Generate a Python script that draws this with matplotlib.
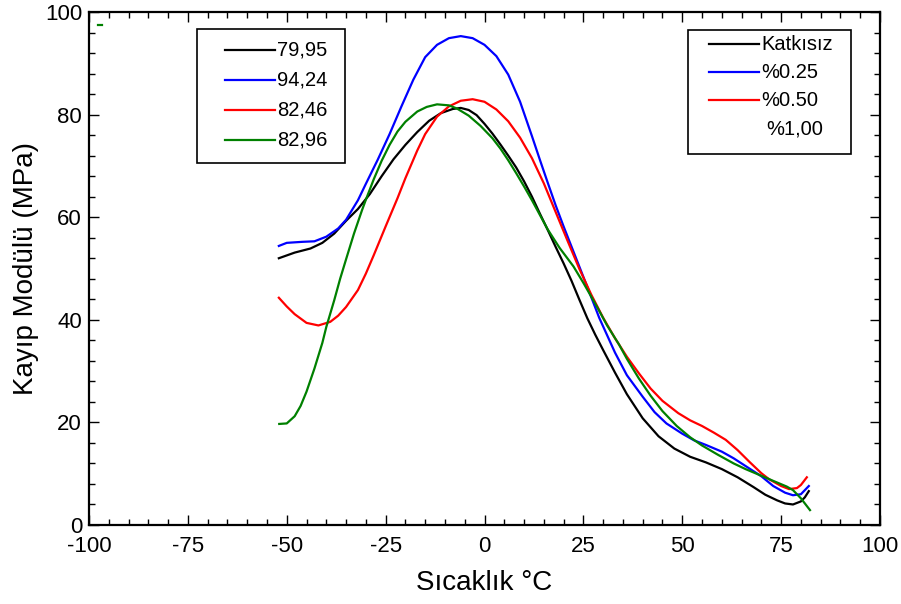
import matplotlib.pyplot as plt
from matplotlib.lines import Line2D
from matplotlib.patches import Rectangle
from matplotlib.ticker import MultipleLocator

plt.rcParams['font.family'] = ['Liberation Sans', 'DejaVu Sans']
plt.rcParams['axes.unicode_minus'] = False

# Katkisiz (black)
x_katkisiz = [-52, -48, -44, -41, -38, -35, -32, -29, -26, -23, -20, -17, -14, -11, -8, -6, -4, -2,
              0, 2, 4, 6, 8, 10, 12, 14, 16, 18, 20, 22, 24, 26, 28, 30, 33, 36, 40, 44, 48, 52,
              56, 60, 64, 68, 71, 74, 76, 78, 80, 81, 82]
y_katkisiz = [52.0, 53.1, 53.9, 55.0, 56.8, 59.3, 61.6, 64.5, 68.0, 71.3, 74.1, 76.6, 78.8, 80.3,
              81.1, 81.3, 80.9, 79.9, 78.2, 76.3, 74.2, 72.0, 69.7, 67.0, 64.0, 60.7, 57.5, 54.2,
              51.0, 47.6, 43.9, 40.3, 37.1, 34.1, 29.7, 25.5, 20.8, 17.3, 14.9, 13.3, 12.2, 10.9,
              9.3, 7.4, 5.9, 4.8, 4.2, 4.0, 4.6, 5.4, 6.6]

# %0.25 (blue)
x_025 = [-52, -50, -46, -43, -40, -37, -35, -32, -30, -27, -24, -21, -18, -15, -12, -9, -6, -3, 0,
         3, 6, 9, 12, 14, 16, 18, 20, 23, 26, 29, 33, 36, 40, 43, 46, 50, 53, 56, 60, 63, 66, 70,
         73, 76, 78, 80, 82]
y_025 = [54.4, 55.0, 55.2, 55.3, 56.2, 57.8, 59.5, 63.3, 66.5, 71.2, 76.2, 81.6, 86.8, 91.2, 93.6,
         94.9, 95.3, 94.9, 93.6, 91.4, 87.8, 82.5, 75.8, 71.2, 66.7, 62.3, 58.2, 52.3, 46.4, 40.4,
         33.6, 29.2, 25.0, 22.0, 19.8, 17.8, 16.5, 15.6, 14.3, 13.0, 11.5, 9.5, 7.6, 6.3, 5.8,
         6.0, 7.6]

# %0.50 (red)
x_050 = [-52, -50, -48, -45, -42, -39, -37, -35, -32, -30, -28, -25, -22, -20, -17, -15, -12, -9,
         -6, -3, 0, 3, 6, 9, 12, 15, 18, 21, 24, 27, 30, 33, 36, 39, 42, 45, 49, 52, 55, 58, 61,
         64, 67, 70, 72, 75, 77, 79, 80, 81.5]
y_050 = [44.3, 42.6, 41.1, 39.4, 38.9, 39.6, 40.8, 42.5, 45.8, 49.0, 52.6, 58.2, 63.7, 67.6, 73.0,
         76.2, 79.6, 81.6, 82.7, 83.0, 82.5, 81.0, 78.7, 75.5, 71.5, 66.6, 61.0, 55.4, 49.9, 44.9,
         40.4, 36.4, 32.8, 29.6, 26.6, 24.2, 21.8, 20.4, 19.3, 18.0, 16.6, 14.6, 12.3, 10.1, 8.9,
         7.6, 7.0, 7.2, 7.8, 9.3]

# %1,00 (green)
x_100 = [-51.9, -50, -48, -46.5, -45, -43, -41, -40, -38, -36.5, -35, -33, -31, -30, -28, -26, -24,
         -22, -20, -17, -14.6, -12, -9, -7, -4, -1, 2, 4, 6, 8, 10, 12, 16, 19, 22.5, 25, 28.4, 31,
         34, 36, 39, 42, 45, 48.6, 52, 55, 59, 63, 66, 70, 73, 76.4, 78, 80, 82.3]
y_100 = [19.7, 19.8, 21.2, 23.2, 26.0, 30.5, 35.5, 38.6, 43.8, 48.0, 51.8, 56.8, 61.3, 63.4, 67.4,
         71.0, 74.1, 76.7, 78.6, 80.6, 81.5, 82.0, 81.8, 81.2, 79.8, 77.8, 75.4, 73.4, 71.1, 68.6,
         66.0, 63.3, 57.6, 54.0, 50.4, 47.2, 42.6, 38.9, 35.2, 32.4, 28.6, 25.2, 22.2, 19.3, 17.1,
         15.5, 13.7, 12.0, 10.9, 9.6, 8.6, 7.5, 6.8, 5.2, 2.9]

series = [(x_katkisiz, y_katkisiz, 'black'), (x_025, y_025, 'blue'),
          (x_050, y_050, 'red'), (x_100, y_100, 'green')]
left_labels = ['79,95', '94,24', '82,46', '82,96']
right_labels = ['Katkısız', '%0.25', '%0.50', '%1,00']

W, H = 901, 604
fig = plt.figure(figsize=(W / 100, H / 100), dpi=100)
ax = fig.add_axes([89 / W, 1 - 525 / H, 791 / W, 513 / H])

for xs, ys, c in series:
    ax.plot(xs, ys, color=c, linewidth=1.6, solid_joinstyle='round')

ax.set_xlim(-100, 100)
ax.set_ylim(0, 100)
ax.xaxis.set_major_locator(MultipleLocator(25))
ax.xaxis.set_minor_locator(MultipleLocator(5))
ax.yaxis.set_major_locator(MultipleLocator(20))
ax.yaxis.set_minor_locator(MultipleLocator(4))
ax.tick_params(which='both', direction='in', top=True, right=True, labelsize=16, width=1)
ax.tick_params(which='major', length=7)
ax.tick_params(which='minor', length=4)
ax.tick_params(axis='x', pad=8)
ax.tick_params(axis='y', pad=5)
for sp in ax.spines.values():
    sp.set_linewidth(1.6)

ax.set_xlabel('Sıcaklık °C', fontsize=20, labelpad=9)
ax.set_ylabel('Kayıp Modülü (MPa)', fontsize=20, labelpad=4)

# stray green dash near the top-left corner
ax.add_line(Line2D([0.011, 0.017], [0.974, 0.974], color='green', linewidth=1.6,
                   transform=ax.transAxes))


def fx(px):
    return px / W


def fy(py):
    return 1 - py / H


def draw_legend(box, rows, x_line, x_text, colors, labels, text_shift):
    x0, y0, x1, y1 = box
    fig.add_artist(Rectangle((fx(x0), fy(y1)), fx(x1) - fx(x0), fy(y0) - fy(y1),
                             transform=fig.transFigure, fill=False, edgecolor='black', linewidth=1.2))
    for row, c, lab, dx in zip(rows, colors, labels, text_shift):
        if c is not None:
            fig.add_artist(Line2D([fx(x_line[0]), fx(x_line[1])], [fy(row), fy(row)], color=c,
                                  linewidth=1.6, transform=fig.transFigure))
        fig.text(fx(x_text + dx), fy(row), lab, fontsize=14.5, va='center', ha='left')


draw_legend((197, 29, 345, 163), [50, 80, 110, 140], (225, 275), 277,
            ['black', 'blue', 'red', 'green'], left_labels, [0, 0, 0, 0])
draw_legend((688, 30, 851, 154), [44, 72, 100, 129], (709, 759), 761,
            ['black', 'blue', 'red', None], right_labels, [0, 0, 0, 5])

fig.savefig('out.png', dpi=100)
